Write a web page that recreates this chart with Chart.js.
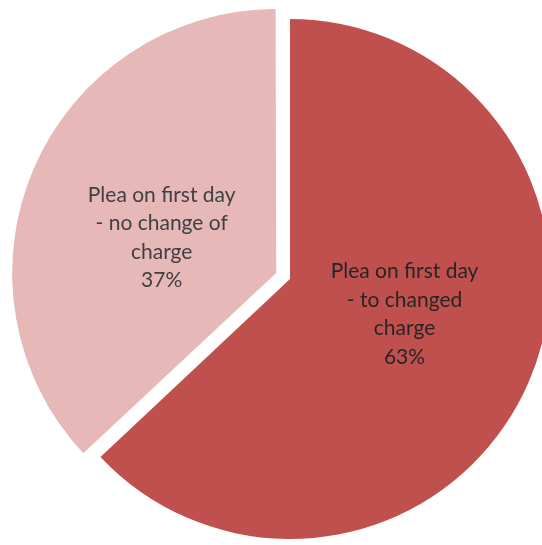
<!DOCTYPE html>
<html>
<head>
<meta charset="utf-8">
<title>First day pleas</title>
<script src="https://cdn.jsdelivr.net/npm/chart.js@4"></script>
<style>
  html, body { margin: 0; padding: 0; background: #fff; }
  #wrap { width: 542px; height: 545px; }
</style>
</head>
<body>
<div id="wrap">
  <canvas id="pie" width="542" height="545"></canvas>
</div>
<script>
// slice names, split the way they wrap inside the pie
const categories = [
  ["Plea on first day", "- to changed", "charge"],
  ["Plea on first day", "- no change of", "charge"],
];
const shares = [63, 37]; // percent
const sliceColors = ["#c0504d", "#e6b8b7"];
const labelColors = ["#262626", "#404040"];
const explode = [0, 60]; // arc offset (chart.js moves the arc by offset / 4)

// writes the category + percentage in the middle of each slice
const sliceLabels = {
  id: "sliceLabels",
  afterDatasetsDraw(chart) {
    const ctx = chart.ctx;
    const meta = chart.getDatasetMeta(0);
    ctx.save();
    ctx.font = "21px Lato, 'Open Sans', sans-serif";
    ctx.textAlign = "center";
    ctx.textBaseline = "middle";
    meta.data.forEach((arc, i) => {
      const { x, y, startAngle, endAngle, outerRadius } = arc.getProps(
        ["x", "y", "startAngle", "endAngle", "outerRadius"], true);
      const mid = (startAngle + endAngle) / 2;
      const shift = explode[i] / 4;
      const cx = x + Math.cos(mid) * (shift + 0.48 * outerRadius);
      const cy = y + Math.sin(mid) * (shift + 0.34 * outerRadius);
      const lines = categories[i].concat([shares[i] + "%"]);
      const lh = 28.5;
      const top = cy - (lines.length - 1) * lh / 2;
      ctx.fillStyle = labelColors[i];
      lines.forEach((t, j) => ctx.fillText(t, cx, top + j * lh));
    });
    ctx.restore();
  },
};

const chart = new Chart(document.getElementById("pie"), {
  type: "pie",
  data: {
    labels: categories.map((c) => c.join(" ")),
    datasets: [
      {
        data: shares,
        backgroundColor: sliceColors,
        borderWidth: 0,
        offset: explode,
        clip: false,
      },
    ],
  },
  options: {
    responsive: false,
    animation: false,
    radius: 260,
    layout: { padding: { left: 38, right: 0, top: 13, bottom: 0 } },
    plugins: {
      legend: { display: false },
      tooltip: { enabled: false },
    },
  },
  plugins: [sliceLabels],
});
</script>
</body>
</html>
